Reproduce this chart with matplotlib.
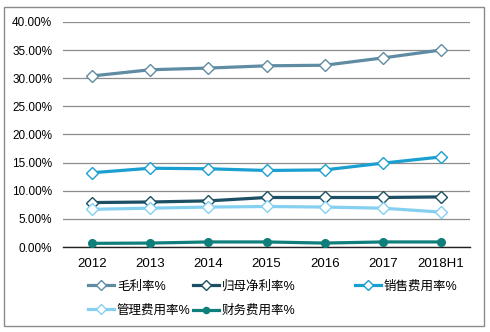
import matplotlib
matplotlib.use("Agg")
import matplotlib.pyplot as plt
from matplotlib.patches import Rectangle

plt.rcParams['font.family'] = ['Liberation Sans', 'Noto Sans CJK SC', 'DejaVu Sans']

years = ["2012", "2013", "2014", "2015", "2016", "2017", "2018H1"]
gross = [30.4, 31.5, 31.8, 32.2, 32.3, 33.6, 35.0]
net = [7.9, 8.0, 8.2, 8.8, 8.8, 8.8, 8.9]
sales = [13.2, 14.0, 13.9, 13.6, 13.7, 14.9, 16.0]
admin = [6.7, 6.9, 7.1, 7.2, 7.1, 6.9, 6.2]
finance = [0.65, 0.7, 0.9, 0.9, 0.7, 0.9, 0.9]

names = ["毛利率%", "归母净利率%", "销售费用率%", "管理费用率%", "财务费用率%"]
colors = ["#5f8ca3", "#1c4f63", "#1a9fd1", "#85d0f0", "#0f7f7c"]

fig = plt.figure(figsize=(4.9, 3.32), dpi=100)
ax = fig.add_axes([0.129, 0.256, 0.830, 0.678])

x = range(len(years))
hs = {}
for name, vals, c in zip(names, [gross, net, sales, admin, finance], colors):
    if name == "财务费用率%":
        h, = ax.plot(x, vals, color=c, lw=2.3, marker="o", ms=5.5,
                     mfc=c, mec=c, zorder=3)
    else:
        h, = ax.plot(x, vals, color=c, lw=2.3, marker="D", ms=6.5,
                     mfc="white", mec=c, mew=1.0, zorder=3)
    hs[name] = h

ax.set_xlim(-0.5, len(years) - 0.5)
ax.set_ylim(0, 40)
ax.set_yticks(range(0, 41, 5))
ax.set_yticklabels(["%.2f%%" % v for v in range(0, 41, 5)], fontsize=8.5)
ax.set_xticks(list(x))
ax.set_xticklabels(years, fontsize=9.5)
ax.tick_params(axis="x", length=0, pad=8)
ax.tick_params(axis="y", length=0, pad=8)
ax.grid(axis="y", color="#8c8c8c", lw=0.9)
ax.set_axisbelow(True)
for s in ["top", "right", "left"]:
    ax.spines[s].set_visible(False)
ax.spines["bottom"].set_color("#222222")
ax.spines["bottom"].set_linewidth(1.0)

# legend laid out as three columns, row-major like the original
cols = [(["毛利率%", "管理费用率%"], 0.180),
        (["归母净利率%", "财务费用率%"], 0.394),
        (["销售费用率%"], 0.724)]
for labels, xpos in cols:
    leg = fig.legend([hs[n] for n in labels], labels, loc="upper left",
                     bbox_to_anchor=(xpos, 0.155), frameon=False, fontsize=9,
                     handlelength=2.1, handletextpad=0.2, markerscale=0.8,
                     labelspacing=0.95, borderpad=0, borderaxespad=0)

fig.patches.append(Rectangle((0.008, 0.018), 0.98, 0.96, transform=fig.transFigure,
                             fill=False, edgecolor="#8a8a8a", lw=1.0))

fig.savefig("out.png", dpi=100)
